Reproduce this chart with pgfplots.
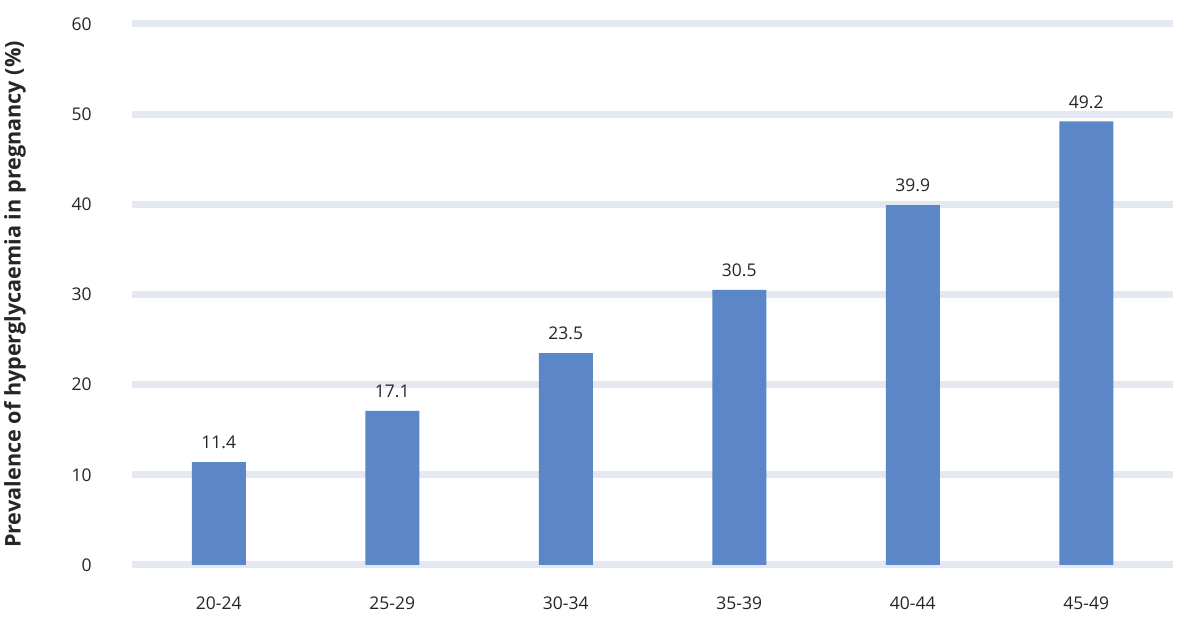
\documentclass[border=0pt]{standalone}
\usepackage{fontspec}
\setmainfont{Open Sans}
\usepackage{pgfplots}
\pgfplotsset{compat=1.18}
\definecolor{barblue}{HTML}{5B87C8}
\definecolor{gridc}{HTML}{E4E8F0}
\definecolor{txt}{HTML}{262626}
\begin{document}
\begin{tikzpicture}
\begin{axis}[
  name=ax,
  scale only axis,
  width=520.5pt, height=270.5pt,
  xmin=-0.5, xmax=5.5, ymin=0, ymax=60,
  ytick={0,10,...,60},
  xtick=data,
  xticklabels={20-24,25-29,30-34,35-39,40-44,45-49},
  axis line style={draw=none},
  major tick length=0pt,
  ymajorgrids,
  grid style={gridc, line width=3.5pt},
  /pgf/number format/assume math mode=true,
  tick label style={font=\fontsize{8.75pt}{10pt}\selectfont, text=txt},
  yticklabel style={anchor=east, inner sep=0pt, xshift=-20pt},
  xticklabel style={anchor=north, inner sep=0pt, yshift=-15.5pt},
  ylabel={Prevalence of hyperglycaemia in pregnancy (\%)},
  ylabel style={at={(axis description cs:-0.1124,0.5)}, anchor=center, font=\bfseries\fontsize{10.8pt}{13pt}\selectfont, text=txt},
  nodes near coords,
  every node near coord/.append style={font=\fontsize{8.75pt}{10pt}\selectfont, text=txt, yshift=3pt,
    /pgf/number format/fixed, /pgf/number format/fixed zerofill, /pgf/number format/precision=1},
]
\addplot[ybar, bar width=27pt, fill=barblue, draw=none] coordinates {
(0,11.4) (1,17.1) (2,23.5) (3,30.5) (4,39.9) (5,49.2)};
\end{axis}
\pgfresetboundingbox
\path ([shift={(-66pt,-26.5pt)}]ax.south west) rectangle ([shift={(4pt,12pt)}]ax.north east);
\end{tikzpicture}
\end{document}
